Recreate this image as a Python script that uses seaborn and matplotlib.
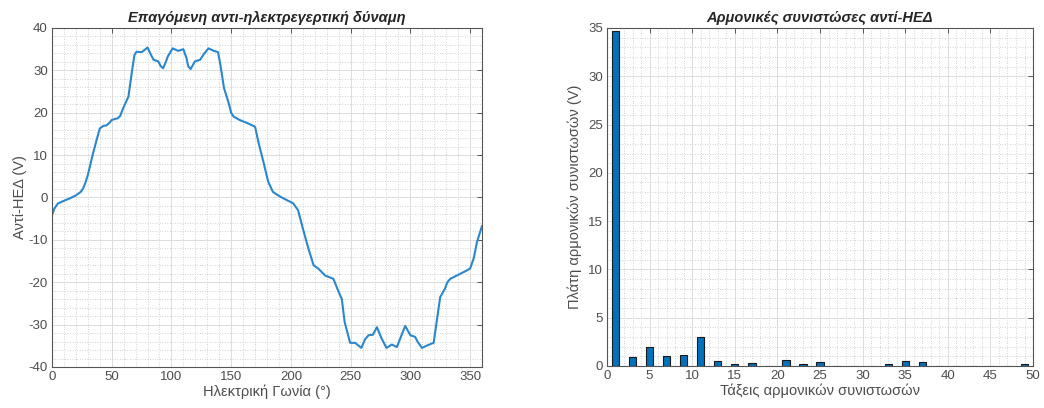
import matplotlib
matplotlib.use("Agg")
import matplotlib.pyplot as plt
from matplotlib.ticker import MultipleLocator
import seaborn as sns
import pandas as pd

# ---- data: back-EMF waveform ----
angle_deg = [0, 2, 5, 9, 15, 20, 24, 26, 28, 30, 34, 37, 40, 43, 45.5, 48, 50, 55, 57, 59.5, 64,
             66.5, 69, 70.7, 75, 77, 80, 83, 85, 89, 91, 93, 95, 97, 101, 105.6, 110, 112.6, 114,
             116, 119.6, 124, 127, 131, 135.5, 139, 141, 144, 147.6, 150, 152, 157, 164, 170,
             172.7, 177, 181, 185, 191, 196.5, 202, 206, 210, 214.6, 219, 223, 228.6, 235.6, 240,
             242.6, 245, 249.6, 253.8, 259, 262, 265, 268.6, 272, 276, 280, 284.5, 288.7, 291.5,
             295.7, 300, 304, 306, 309.7, 315, 319.5, 322, 325, 329, 331, 333.4, 339, 344.6, 350,
             353, 355.8, 360]
emf_v = [-4.2, -2.6, -1.4, -0.9, -0.2, 0.5, 1.3, 2.1, 3.5, 5.3, 10.0, 13.2, 16.3, 16.9, 17.0,
         17.6, 18.3, 18.7, 19.2, 21.0, 23.8, 28.9, 33.6, 34.4, 34.3, 34.7, 35.4, 33.6, 32.5, 32.1,
         31.0, 30.5, 31.8, 33.3, 35.2, 34.6, 35.0, 32.9, 31.0, 30.3, 32.1, 32.5, 33.8, 35.2, 34.6,
         34.3, 31.3, 25.8, 22.6, 20.0, 19.1, 18.3, 17.5, 16.7, 13.2, 8.4, 3.7, 1.3, 0.2, -0.6,
         -1.4, -3.0, -7.3, -12.0, -16.0, -16.8, -18.4, -19.2, -22.3, -23.9, -29.4, -34.3, -34.3,
         -35.5, -33.5, -32.5, -32.4, -30.6, -33.3, -35.5, -34.7, -35.3, -33.3, -30.3, -32.5,
         -32.9, -34.0, -35.5, -34.8, -34.3, -29.4, -23.5, -21.5, -20.0, -19.2, -18.4, -17.6,
         -16.8, -14.4, -10.5, -6.7]

# ---- data: harmonic amplitudes ----
harmonic_order = [1, 3, 5, 7, 9, 11, 13, 15, 17, 19, 21, 23, 25, 27, 29, 31, 33, 35, 37, 39,
                  41, 43, 45, 47, 49]
harmonic_amp = [34.7, 0.9, 2.0, 1.05, 1.15, 3.05, 0.5, 0.2, 0.35, 0.0, 0.62, 0.17, 0.45, 0.0,
                0.0, 0.0, 0.17, 0.52, 0.45, 0.0, 0.0, 0.0, 0.0, 0.0, 0.2]

title_left = "Επαγόμενη αντι-ηλεκτρεγερτική δύναμη"
xlabel_left = "Ηλεκτρική Γωνία (°)"
ylabel_left = "Αντί-ΗΕΔ (V)"
title_right = "Αρμονικές συνιστώσες αντί-ΗΕΔ"
xlabel_right = "Τάξεις αρμονικών συνιστωσών"
ylabel_right = "Πλάτη αρμονικών συνιστωσών (V)"

sns.set_theme(style="white")
plt.rcParams['font.family'] = ['Liberation Sans', 'DejaVu Sans']
plt.rcParams['axes.unicode_minus'] = False

df_wave = pd.DataFrame({"angle": angle_deg, "emf": emf_v})
df_harm = pd.DataFrame({"order": harmonic_order, "amp": harmonic_amp})

fig = plt.figure(figsize=(10.44, 4.08), dpi=100)
ax1 = fig.add_axes([0.0498, 0.1005, 0.4119, 0.8309])
ax2 = fig.add_axes([0.5814, 0.1030, 0.4081, 0.8284])

TXT = "#4d4d4d"
SPINE = "#555555"
TICK_FS = 9.5
LABEL_FS = 10.5
TITLE_FS = 10.5


def style_axes(ax):
    ax.set_axisbelow(True)
    ax.grid(which="major", color="#dcdcdc", linestyle="-", linewidth=0.7)
    ax.grid(which="minor", color="#c4c4c4", linestyle=(0, (1, 2)), linewidth=0.6)
    for s in ax.spines.values():
        s.set_visible(True)
        s.set_color(SPINE)
        s.set_linewidth(0.8)
    ax.tick_params(which="major", direction="in", length=3.5, width=0.7, color=SPINE,
                   top=True, right=True, labelsize=TICK_FS, labelcolor=TXT, pad=3)
    ax.tick_params(which="minor", length=0)
    ax.set_facecolor("white")


sns.lineplot(data=df_wave, x="angle", y="emf", ax=ax1, color="#2a87cf", linewidth=1.5)
ax1.set_xlim(0, 360)
ax1.set_ylim(-40, 40)
ax1.xaxis.set_major_locator(MultipleLocator(50))
ax1.xaxis.set_minor_locator(MultipleLocator(10))
ax1.yaxis.set_major_locator(MultipleLocator(10))
ax1.yaxis.set_minor_locator(MultipleLocator(2))
style_axes(ax1)
ax1.set_title(title_left, fontsize=TITLE_FS, fontweight="bold", fontstyle="italic", color="#262626", pad=4)
ax1.set_xlabel(xlabel_left, fontsize=LABEL_FS, color=TXT, labelpad=1)
ax1.set_ylabel(ylabel_left, fontsize=LABEL_FS, color=TXT, labelpad=1)

sns.barplot(data=df_harm, x="order", y="amp", ax=ax2, native_scale=True, width=0.43,
            color="#0072BD", saturation=1, edgecolor="#1a1a1a", linewidth=0.8)
ax2.set_xlim(0, 50)
ax2.set_ylim(0, 35)
ax2.xaxis.set_major_locator(MultipleLocator(5))
ax2.xaxis.set_minor_locator(MultipleLocator(1))
ax2.yaxis.set_major_locator(MultipleLocator(5))
ax2.yaxis.set_minor_locator(MultipleLocator(1))
style_axes(ax2)
ax2.set_title(title_right, fontsize=TITLE_FS, fontweight="bold", fontstyle="italic", color="#262626", pad=4)
ax2.set_xlabel(xlabel_right, fontsize=LABEL_FS, color=TXT, labelpad=1)
ax2.set_ylabel(ylabel_right, fontsize=LABEL_FS, color=TXT, labelpad=4)

fig.savefig("out.png", dpi=100)
